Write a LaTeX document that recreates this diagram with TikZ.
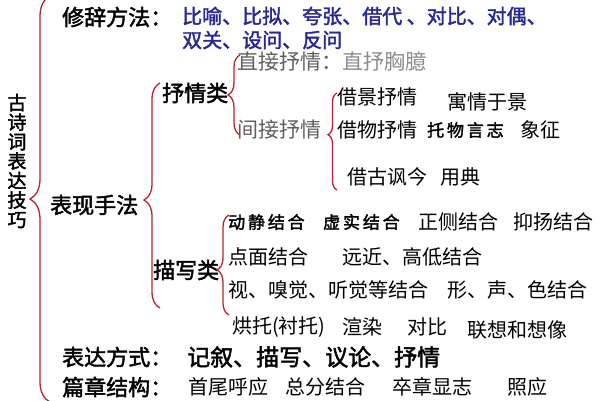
\documentclass[tikz,border=0pt]{standalone}
\usepackage{fontspec}
\setmainfont{Noto Sans CJK SC}[AutoFakeBold=2]
\usepackage{tikz}
\usetikzlibrary{decorations.pathreplacing}
\definecolor{bracered}{RGB}{185,35,50}
\definecolor{listblue}{RGB}{40,40,150}
\definecolor{softgray}{RGB}{95,95,95}
\definecolor{palegray}{RGB}{140,140,140}
\tikzset{
	head/.style={font=\fontsize{22}{22}\selectfont\bfseries, inner sep=0pt, anchor=west},
	item/.style={font=\fontsize{20}{20}\selectfont, inner sep=0pt, anchor=west},
	bluelist/.style={item, font=\fontsize{20}{20}\selectfont\bfseries, text=listblue},
	grayitem/.style={item, font=\fontsize{21}{21}\selectfont, text=softgray},
	callig/.style={item, font=\fontsize{17}{17}\selectfont\bfseries},
	curly/.style={draw=bracered, line width=1.3pt, decorate, decoration={brace, amplitude=#1}}
}

\begin{document}
\begin{tikzpicture}[x=1pt, y=1pt]
		\useasboundingbox (0,0) rectangle (600,-400);

		\node[font=\fontsize{19}{19.5}\selectfont\bfseries, align=center, inner sep=0pt] (title) at (17,-161) {古\\诗\\词\\表\\达\\技\\巧};

		\node[head] (xiuci) at (62,-17) {修辞方法：};
		\node[bluelist] (xiucilist) at (182,-16) {比喻、比拟、夸张、借代 、对比、对偶、};
		\node[bluelist] (xiucilisttwo) at (182,-40) {双关、设问、反问};

		\node[head] (biaoxian) at (50,-205) {表现手法};
		\node[head] (shuqing) at (162,-93) {抒情类};
		\node[grayitem] (zhijie) at (237,-62) {直接抒情：\textcolor{palegray}{直抒胸臆}};
		\node[grayitem] (jianjie) at (237,-130) {间接抒情};

		\node[item] (jiejing) at (337,-97) {借景抒情};
		\node[item] (yuqing) at (447,-102) {寓情于景};
		\node[item] (jiewu) at (337,-130) {借物抒情};
		\node[callig] (tuowu) at (427,-130) {托\,物\,言\,志};
		\node[item] (xiangzheng) at (520,-130) {象征};
		\node[item] (jiegu) at (347,-177) {借古讽今};
		\node[item] (yongdian) at (440,-177) {用典};

		\node[head] (miaoxie) at (153,-270) {描写类};
		\node[callig] (dongjing) at (228,-222) {动\,静\,结\,合};
		\node[callig] (xushi) at (323,-222) {虚\,实\,结\,合};
		\node[item] (zhengce) at (418,-222) {正侧结合};
		\node[item] (yiyang) at (513,-222) {抑扬结合};
		\node[item] (dianmian) at (228,-257) {点面结合};
		\node[item] (yuanjin) at (342,-257) {远近、高低结合};
		\node[item] (shixiu) at (228,-290) {视、嗅觉、听觉等结合};
		\node[item] (xingsheng) at (447,-290) {形、声、色结合};
		\node[item] (hongtuo) at (232,-327) {烘托(衬托)};
		\node[item] (xuanran) at (342,-327) {渲染};
		\node[item] (duibi) at (407,-327) {对比};
		\node[item] (lianxiang) at (467,-330) {联想和想像};

		\node[head] (biaoda) at (62,-357) {表达方式：};
		\node[item, font=\fontsize{23}{23}\selectfont\bfseries] (biaodalist) at (187,-357) {记叙、描写、议论、抒情};
		\node[head] (pianzhang) at (62,-387) {篇章结构：};
		\node[item] (shouwei) at (188,-387) {首尾呼应};
		\node[item] (zongfen) at (285,-387) {总分结合};
		\node[item] (zuzhang) at (392,-387) {卒章显志};
		\node[item] (zhaoying) at (507,-387) {照应};

		\coordinate (maintop) at (50,4);
		\coordinate (mainbot) at (50,-402);
		\coordinate (biaotop) at (160,-83);
		\coordinate (biaobot) at (160,-308);
		\coordinate (shutop) at (240,-55);
		\coordinate (shubot) at (240,-135);
		\coordinate (jiantop) at (337,-93);
		\coordinate (jianbot) at (337,-190);
		\coordinate (miaotop) at (229,-215);
		\coordinate (miaobot) at (229,-315);

		\draw[curly=20pt] (mainbot) -- (maintop);
		\draw[curly=16pt, decoration={aspect=0.48}] (biaobot) -- (biaotop);
		\draw[curly=12pt] (shubot) -- (shutop);
		\draw[curly=9pt, decoration={aspect=0.57}] (jianbot) -- (jiantop);
		\draw[curly=12pt, decoration={aspect=0.45}] (miaobot) -- (miaotop);
	\end{tikzpicture}
\end{document}
